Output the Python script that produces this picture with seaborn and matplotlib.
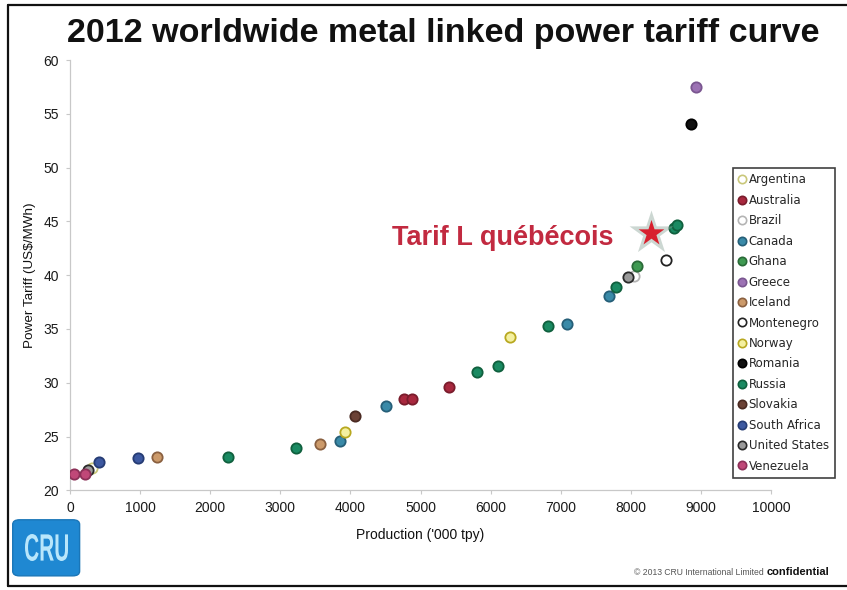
import matplotlib
matplotlib.use("Agg")
import matplotlib.pyplot as plt
from matplotlib.lines import Line2D
from matplotlib.patches import FancyBboxPatch, PathPatch
from matplotlib.textpath import TextPath
from matplotlib.font_manager import FontProperties
from matplotlib.transforms import Affine2D
import seaborn as sns
import pandas as pd

# Smelter observations: country, production ('000 tpy), power tariff (US$/MWh)
country = [
    "Venezuela", "Venezuela", "United States", "Argentina", "South Africa",
    "South Africa", "Iceland", "Russia", "Russia", "Iceland",
    "Canada", "Norway", "Slovakia", "Canada", "Australia",
    "Australia", "Australia", "Russia", "Russia", "Norway",
    "Russia", "Canada", "Canada", "Russia", "United States",
    "Brazil", "Ghana", "Montenegro", "Russia", "Russia",
    "Romania", "Greece",
]
production = [
    57, 220, 256, 310, 410,
    970, 1240, 2250, 3220, 3570,
    3850, 3920, 4070, 4500, 4760,
    4870, 5410, 5810, 6110, 6280,
    6820, 7090, 7680, 7780, 7960,
    8040, 8080, 8500, 8610, 8660,
    8850, 8930,
]
tariff = [
    21.5, 21.5, 21.9, 22.1, 22.6,
    23.0, 23.1, 23.1, 23.9, 24.3,
    24.6, 25.4, 26.9, 27.8, 28.5,
    28.5, 29.6, 31.0, 31.6, 34.3,
    35.3, 35.5, 38.1, 38.9, 39.8,
    39.9, 40.9, 41.4, 44.4, 44.7,
    54.1, 57.5,
]

legend_order = [
    "Argentina", "Australia", "Brazil", "Canada", "Ghana", "Greece",
    "Iceland", "Montenegro", "Norway", "Romania", "Russia", "Slovakia",
    "South Africa", "United States", "Venezuela",
]

# Quebec L rate marker
quebec_production = 8280
quebec_tariff = 43.9
quebec_label = "Tarif L québécois"

x_ticks = [0, 1000, 2000, 3000, 4000, 5000, 6000, 7000, 8000, 9000, 10000]
y_ticks = [20, 25, 30, 35, 40, 45, 50, 55, 60]

# (face colour, edge colour) per country
styles = {
    "Argentina":     ("#ffffff", "#c9c77a"),
    "Australia":     ("#a8283e", "#7a1c2c"),
    "Brazil":        ("#ffffff", "#b4b4b4"),
    "Canada":        ("#3a8aa8", "#265f78"),
    "Ghana":         ("#3f9a52", "#2a6a38"),
    "Greece":        ("#9c72b4", "#7a5690"),
    "Iceland":       ("#cc9a6a", "#8a6040"),
    "Montenegro":    ("#ffffff", "#222222"),
    "Norway":        ("#f4f0a0", "#b8a820"),
    "Romania":       ("#111111", "#000000"),
    "Russia":        ("#1a8a62", "#10603e"),
    "Slovakia":      ("#6c4236", "#4a2a22"),
    "South Africa":  ("#3c58a0", "#263c74"),
    "United States": ("#9a9a9a", "#2a2a2a"),
    "Venezuela":     ("#c04878", "#8c3058"),
}

df = pd.DataFrame({"country": country, "production": production, "tariff": tariff})

sns.set_theme(style="white")
plt.rcParams["font.family"] = ["Liberation Sans", "DejaVu Sans"]

fig = plt.figure(figsize=(8.47, 5.90), dpi=100)
ax = fig.add_axes([0.0826, 0.169, 0.828, 0.729])

for name in legend_order:
    sub = df[df["country"] == name]
    face, edge = styles[name]
    sns.scatterplot(data=sub, x="production", y="tariff", ax=ax, s=55,
                    color=face, edgecolor=edge, linewidth=1.3, zorder=3,
                    legend=False)

# Star with a soft grey-green halo
ax.scatter([quebec_production], [quebec_tariff], marker="*", s=1100,
           color="#8fa89c", alpha=0.45, linewidths=0, zorder=4)
ax.scatter([quebec_production], [quebec_tariff], marker="*", s=380,
           color="#d8202e", linewidths=0, zorder=5)
ax.text(quebec_production - 530, quebec_tariff - 0.4, quebec_label,
        color="#c22a40", fontsize=19.5, fontweight="bold",
        ha="right", va="center", zorder=5)

ax.set_xlim(0, 10000)
ax.set_ylim(20, 60)
ax.set_xticks(x_ticks)
ax.set_yticks(y_ticks)
ax.set_xticklabels([str(v) for v in x_ticks])
ax.set_yticklabels([str(v) for v in y_ticks])
ax.tick_params(axis="both", which="both", length=3, width=0.8, color="#c8c8c8",
               labelsize=10, labelcolor="#1a1a1a", bottom=True, left=True,
               pad=5)
sns.despine(ax=ax)
for side in ("left", "bottom"):
    ax.spines[side].set_color("#c8c8c8")
    ax.spines[side].set_linewidth(0.9)

ax.set_xlabel("Production ('000 tpy)", fontsize=10, color="#111111", labelpad=9)
ax.set_ylabel("Power Tariff (US$/MWh)", fontsize=9.7, color="#111111", labelpad=5)

# Country legend
handles = []
for name in legend_order:
    face, edge = styles[name]
    handles.append(Line2D([0], [0], marker="o", linestyle="none",
                          markerfacecolor=face, markeredgecolor=edge,
                          markeredgewidth=1.2, markersize=6, label=name))
leg = fig.legend(handles=handles, loc="upper left",
                 bbox_to_anchor=(0.865, 0.716), frameon=True,
                 prop={"family": "DejaVu Sans", "size": 8.5},
                 handlelength=0.6, handletextpad=0.25, labelspacing=0.63,
                 borderpad=0.5, borderaxespad=0, fancybox=False)
leg.get_frame().set_edgecolor("#111111")
leg.get_frame().set_linewidth(1.2)

fig.text(0.523, 0.944, "2012 worldwide metal linked power tariff curve",
         ha="center", va="center", fontsize=24.5, fontweight="bold",
         color="#111111")

# CRU badge
badge = FancyBboxPatch((0.015, 0.024), 0.079, 0.095,
                       boxstyle="round,pad=0,rounding_size=0.008",
                       transform=fig.transFigure, facecolor="#1f88d2",
                       edgecolor="#1a76b8", linewidth=1)
fig.patches.append(badge)
logo_path = TextPath((0, 0), "CRU", size=1,
                     prop=FontProperties(family="Liberation Sans", weight="bold"))
ext = logo_path.get_extents()
x0, x1 = 25 / 847, 68 / 847
y0, y1 = 1 - 561 / 590, 1 - 534 / 590
logo_tf = (Affine2D().translate(-ext.x0, -ext.y0)
           .scale((x1 - x0) / ext.width, (y1 - y0) / ext.height)
           .translate(x0, y0) + fig.transFigure)
fig.patches.append(PathPatch(logo_path, transform=logo_tf,
                             facecolor="#b8e6fb", edgecolor="none"))

fig.text(0.905, 0.030, "© 2013 CRU International Limited ", ha="right",
         va="center", fontsize=6.2, color="#555555")
fig.text(0.905, 0.030, "confidential", ha="left", va="center", fontsize=8,
         fontweight="bold", color="#111111")

# Outer frame (top, left, bottom)
frame_kw = dict(color="#111111", linewidth=1.6, transform=fig.transFigure)
fig.lines.append(Line2D([0.009, 1.0], [0.992, 0.992], **frame_kw))
fig.lines.append(Line2D([0.009, 0.009], [0.007, 0.992], **frame_kw))
fig.lines.append(Line2D([0.009, 1.0], [0.007, 0.007], **frame_kw))

fig.savefig("out.png", dpi=100)
